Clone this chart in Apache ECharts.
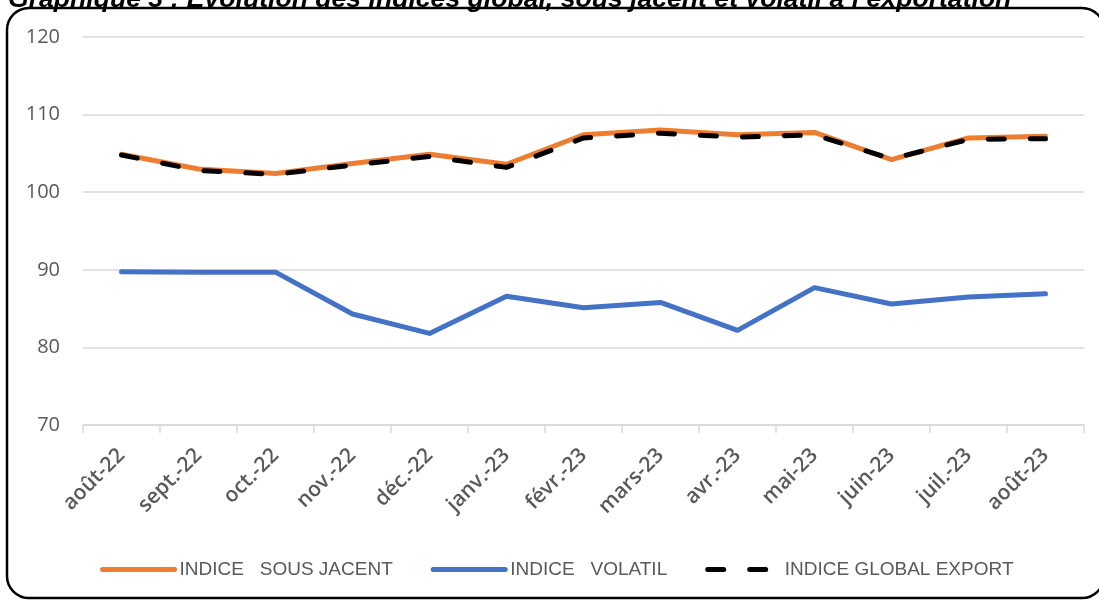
<!DOCTYPE html>
<html>
<head>
<meta charset="utf-8">
<script src="https://cdn.jsdelivr.net/npm/echarts@6/dist/echarts.min.js"></script>
<style>
  html, body { margin: 0; padding: 0; background: #fff; }
  #Main { width: 1099px; height: 601px; }
</style>
</head>
<body>
<div id="Main"></div>
<script>
var months = ['août-22', 'sept.-22', 'oct.-22', 'nov.-22', 'déc.-22', 'janv.-23', 'févr.-23',
  'mars-23', 'avr.-23', 'mai-23', 'juin-23', 'juil.-23', 'août-23'];
var sousJacent = [104.9, 103.0, 102.4, 103.7, 104.9, 103.6, 107.4, 108.0, 107.4, 107.7, 104.2, 107.0, 107.2];
var volatil = [89.75, 89.7, 89.7, 84.3, 81.8, 86.6, 85.1, 85.8, 82.2, 87.7, 85.6, 86.5, 86.9];
var globalExport = [104.8, 102.8, 102.3, 103.5, 104.6, 103.2, 107.0, 107.6, 107.1, 107.4, 104.3, 106.8, 106.9];
var yTicks = { min: 70, max: 120, step: 10 };

var Main = echarts.init(document.getElementById('Main'));
// cadre arrondi + titre coupé en haut
Main.setOption({
  animation: false,
  title: {
    text: 'Graphique 3 : Evolution des indices global, sous jacent et volatil à l\u2019exportation',
    left: 3,
    top: -19,
    textStyle: {
      fontFamily: 'Liberation Sans',
      fontSize: 26.6,
      fontWeight: 'bold',
      fontStyle: 'italic',
      color: '#000'
    }
  },
  graphic: [
    {
      type: 'rect',
      shape: { x: 7, y: 8, width: 1097, height: 590, r: 22 },
      style: { fill: 'none', stroke: '#000', lineWidth: 2.5 },
      z: -1
    }
  ],
  legend: {
    bottom: 17,
    left: 95,
    itemWidth: 72,
    itemHeight: 12,
    itemGap: 38,
    itemStyle: { opacity: 0 },
    lineStyle: { width: 5 },
    textStyle: {
      fontFamily: 'Liberation Sans',
      fontSize: 19,
      color: '#595959'
    },
    data: ['INDICE   SOUS JACENT', 'INDICE   VOLATIL', 'INDICE GLOBAL EXPORT']
  },
  grid: {
    left: 83,
    right: 15,
    top: 37,
    bottom: 176
  },
  xAxis: {
    type: 'category',
    boundaryGap: true,
    data: months,
    axisLine: { lineStyle: { color: '#d9d9d9', width: 1.5 } },
    axisTick: { show: true, length: 8, lineStyle: { color: '#d9d9d9', width: 1.5 } },
    axisLabel: {
      rotate: 45,
      interval: 0,
      margin: 27,
      fontFamily: 'Open Sans',
      fontWeight: 600,
      fontSize: 21,
      color: '#595959'
    }
  },
  yAxis: {
    type: 'value',
    min: yTicks.min,
    max: yTicks.max,
    interval: yTicks.step,
    axisLine: { show: false },
    axisTick: { show: false },
    axisLabel: {
      margin: 23,
      fontFamily: 'Open Sans',
      fontSize: 20,
      color: '#595959'
    },
    splitLine: { lineStyle: { color: '#d9d9d9', width: 1.5 } }
  },
  series: [
    {
      name: 'INDICE   SOUS JACENT',
      type: 'line',
      symbol: 'none',
      data: sousJacent,
      itemStyle: { color: '#ED7D31' },
      lineStyle: { color: '#ED7D31', width: 5, cap: 'round', join: 'round' }
    },
    {
      name: 'INDICE   VOLATIL',
      type: 'line',
      symbol: 'none',
      data: volatil,
      itemStyle: { color: '#4472C4' },
      lineStyle: { color: '#4472C4', width: 5, cap: 'round', join: 'round' }
    },
    {
      name: 'INDICE GLOBAL EXPORT',
      type: 'line',
      symbol: 'none',
      data: globalExport,
      itemStyle: { color: '#000' },
      lineStyle: { color: '#000', width: 5, type: [16, 26], cap: 'round', join: 'round' }
    }
  ]
});
</script>
</body>
</html>
